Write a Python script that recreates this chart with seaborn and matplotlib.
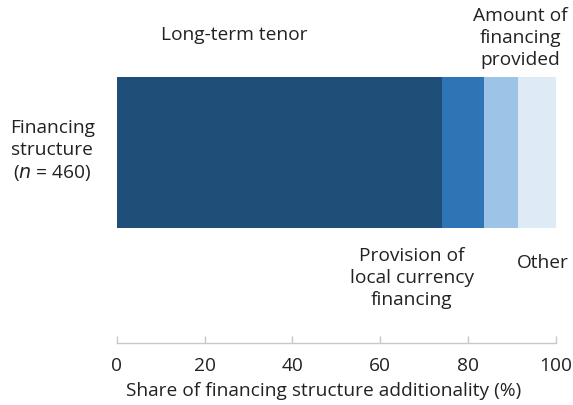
import numpy as np
import pandas as pd
import seaborn as sns
import matplotlib.pyplot as plt

# dados
categorias = ['Long-term tenor', 'Provision of local currency financing',
              'Amount of financing provided', 'Other']
valores = [74.0, 9.6, 7.7, 8.7]
cores = ['#1f4e79', '#2e75b6', '#9dc3e6', '#deebf7']
grupo = 'Financing structure'
ticks_x = [0, 20, 40, 60, 80, 100]

sns.set_style('white')
plt.rcParams['font.family'] = ['Open Sans', 'DejaVu Sans']

fs = 13.8
ls = 1.28
cor_texto = '#222222'

fig = plt.figure(figsize=(5.73, 4.05), dpi=100)
ax = fig.add_axes([0.204, 0.153, 0.766, 0.657])

# barras empilhadas: desenha as somas acumuladas da maior para a menor
acumulado = np.cumsum(valores)
for total, cor in zip(acumulado[::-1], cores[::-1]):
    df = pd.DataFrame({'grupo': [grupo], 'valor': [total]})
    sns.barplot(data=df, x='valor', y='grupo', color=cor, orient='h',
                width=1.0, saturation=1, ax=ax, errorbar=None,
                edgecolor='none', linewidth=0)

ax.set_xlim(0, 100)
ax.set_ylim(0.5 + 115 / 151, -0.5)
ax.set_yticks([])
ax.set_ylabel('')
ax.set_xticks(ticks_x)
ax.tick_params(axis='x', bottom=True, direction='in', length=5, width=1,
               color='#c8c8c8', labelsize=fs, labelcolor=cor_texto, pad=10)
for s in ['top', 'right', 'left']:
    ax.spines[s].set_visible(False)
ax.spines['bottom'].set_color('#c8c8c8')
ax.spines['bottom'].set_linewidth(1)
ax.set_xlabel('Share of financing structure additionality (%)', fontsize=fs,
              color=cor_texto, labelpad=5, x=0.47)

# rótulos dos segmentos
ax.annotate('Long-term tenor', xy=(26.8, -0.5), xytext=(0, 30),
            textcoords='offset points', ha='center', va='center',
            fontsize=fs, color=cor_texto, annotation_clip=False)
ax.annotate('Amount of\nfinancing\nprovided', xy=(92.0, -0.5), xytext=(0, 28),
            textcoords='offset points', ha='center', va='center',
            fontsize=fs, color=cor_texto, linespacing=ls,
            annotation_clip=False)
ax.annotate('Provision of\nlocal currency\nfinancing', xy=(67.2, 0.5), xytext=(0, -36),
            textcoords='offset points', ha='center', va='center',
            fontsize=fs, color=cor_texto, linespacing=ls,
            annotation_clip=False)
ax.annotate('Other', xy=(97.0, 0.5), xytext=(0, -25),
            textcoords='offset points', ha='center', va='center',
            fontsize=fs, color=cor_texto, annotation_clip=False)

# rótulo do grupo à esquerda
fig.text(0.091, 0.627, 'Financing\nstructure\n($n$ = 460)', ha='center', va='center',
         fontsize=fs, color=cor_texto, linespacing=ls)

plt.savefig('out.png', dpi=100)
plt.close()
